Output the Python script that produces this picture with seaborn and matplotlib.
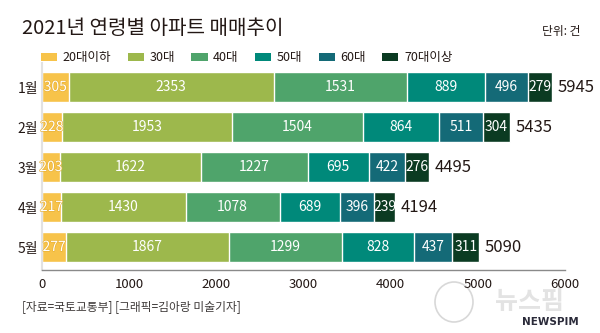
import matplotlib
matplotlib.use("Agg")
import numpy as np
import pandas as pd
import matplotlib.pyplot as plt
from matplotlib.patches import Patch, Ellipse
import matplotlib.patheffects as pe
import seaborn as sns

# Monthly apartment sales by buyer age group (unit: cases)
months = ["1월", "2월", "3월", "4월", "5월"]
groups = ["20대이하", "30대", "40대", "50대", "60대", "70대이상"]
age_20 = [305, 228, 203, 217, 277]
age_30 = [2353, 1953, 1622, 1430, 1867]
age_40 = [1531, 1504, 1227, 1078, 1299]
age_50 = [889, 864, 695, 689, 828]
age_60 = [496, 511, 422, 396, 437]
age_70 = [279, 304, 276, 239, 311]
totals = [5945, 5435, 4495, 4194, 5090]
x_ticks = [0, 1000, 2000, 3000, 4000, 5000, 6000]

colors = ["#F7C34A", "#9DB84C", "#4FA46B", "#00897A", "#146A77", "#0B3B22"]
ink = "#231815"

sns.set_theme(style="white")
plt.rcParams["font.family"] = ["Noto Sans CJK KR", "DejaVu Sans"]

fig = plt.figure(figsize=(6, 3.33), dpi=100)
ax = fig.add_axes([42 / 600, 1 - 270 / 333, (565 - 42) / 600, (270 - 63) / 333])
ax.patch.set_alpha(0)

series = np.array([age_20, age_30, age_40, age_50, age_60, age_70])
cum = np.cumsum(series, axis=0)

# stacked bars: draw cumulative totals from the outermost segment inward
for i in reversed(range(len(groups))):
    df = pd.DataFrame({"month": months, "value": cum[i]})
    sns.barplot(data=df, x="value", y="month", color=colors[i], width=0.75,
                saturation=1, ax=ax, orient="h")

# segment value labels
for i in range(len(groups)):
    for j in range(len(months)):
        v = series[i, j]
        txt = ax.text(cum[i, j] - v / 2, j, f"{v}", ha="center", va="center",
                      color="white", fontsize=10)
        if i == 0:
            txt.set_path_effects([pe.withStroke(linewidth=0.9, foreground="#E8B035")])

# totals at the bar ends
for j in range(len(months)):
    ax.annotate(f"{totals[j]}", xy=(cum[-1, j], j), xytext=(4, 0),
                textcoords="offset points", ha="left", va="center",
                fontsize=12, color=ink)

ax.set_xlim(0, 6000)
ax.set_ylim(4.575, -0.6)
ax.set_xticks(x_ticks)
ax.set_xlabel("")
ax.set_ylabel("")
ax.tick_params(axis="x", direction="in", length=4, width=1, color="#8a8a8a",
               labelsize=9.5, labelcolor=ink, pad=6)
ax.tick_params(axis="y", length=0, labelsize=10, labelcolor=ink, pad=3)
for side in ["top", "right"]:
    ax.spines[side].set_visible(False)
ax.spines["bottom"].set_color("#8a8a8a")
ax.spines["bottom"].set_linewidth(1)
ax.spines["left"].set_color("#e2e2e2")
ax.spines["left"].set_linewidth(1.5)

# legend row under the title
handles = [Patch(facecolor=c, edgecolor="none") for c in colors]
fig.legend(handles, groups, loc="center left",
           bbox_to_anchor=(41 / 600, 1 - 58 / 333), ncol=6, frameon=False,
           fontsize=9, handlelength=1.3, handleheight=0.55, handletextpad=0.45,
           columnspacing=1.3, borderaxespad=0, borderpad=0, labelcolor=ink)

fig.text(22 / 600, 1 - 28 / 333, "2021년 연령별 아파트 매매추이", fontsize=14.5,
         color=ink, ha="left", va="center")
fig.text(580 / 600, 1 - 31 / 333, "단위: 건", fontsize=8.5, color=ink,
         ha="right", va="center")
fig.text(22 / 600, 1 - 307 / 333, "[자료=국토교통부] [그래픽=김아랑 미술기자]",
         fontsize=8.5, color="#3e3a39", ha="left", va="center")

# agency watermark
fig.add_artist(Ellipse((454 / 600, 1 - 302 / 333), 38 / 600, 40 / 333,
                       transform=fig.transFigure, facecolor="none",
                       edgecolor="#d8d8d8", linewidth=1.2, zorder=-1))
fig.text(530 / 600, 1 - 302 / 333, "뉴스핌", fontsize=18, fontweight="bold",
         color="#e3e3e3", ha="center", va="center", zorder=-1)
fig.text(550 / 600, 1 - 322 / 333, "NEWSPIM", fontsize=7.5, fontweight="bold",
         color="#2b2b3a", ha="center", va="center", zorder=-1,
         family=["DejaVu Sans"])

fig.savefig("out.png", dpi=100, facecolor="white")
